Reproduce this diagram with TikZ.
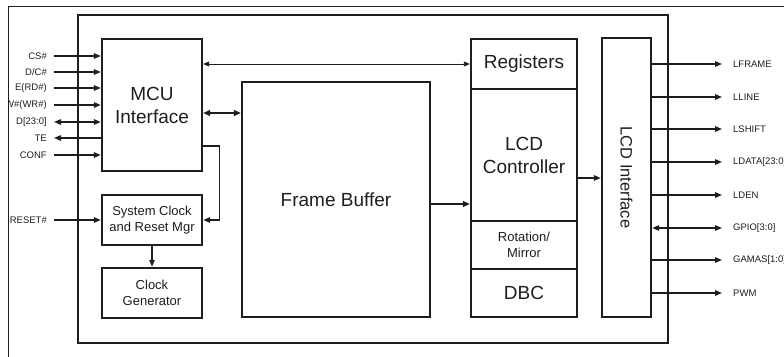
\documentclass[tikz,border=0pt]{standalone}
\usepackage{fontspec}
\setmainfont{Liberation Sans}
\usetikzlibrary{arrows.meta,calc}
\definecolor{ink}{HTML}{1E1E1E}
\tikzset{
  blk/.style={draw=ink,line width=2.4pt,inner sep=0pt,align=center,text=ink},
  bigtxt/.style={font=\fontsize{19}{23}\selectfont},
  smalltxt/.style={font=\fontsize{13}{16.5}\selectfont},
  sig/.style={font=\fontsize{9.5}{11}\selectfont,text=ink,inner sep=0pt},
  arr/.style={-{Triangle[length=7pt,width=5.5pt]},draw=ink,line width=1.4pt},
  arrboth/.style={{Triangle[length=7pt,width=5.5pt]}-{Triangle[length=7pt,width=5.5pt]},draw=ink,line width=1.4pt},
  arrthin/.style={{Triangle[length=6pt,width=5pt]}-{Triangle[length=6pt,width=5pt]},draw=ink,line width=0.9pt},
  arrthick/.style={-{Triangle[length=7pt,width=6pt]},draw=ink,line width=2.2pt},
  arrthickboth/.style={{Triangle[length=7pt,width=6pt]}-{Triangle[length=7pt,width=6pt]},draw=ink,line width=2.2pt}
}

\begin{document}
\begin{tikzpicture}[x=1pt,y=-1pt]
\useasboundingbox (0,0) rectangle (784,356);
\draw[ink,line width=1pt] (8,6) rectangle (800,370);
\clip (8.5,6.5) rectangle (800,370);
% chip outline
\draw[ink,line width=2.4pt] (78,15) rectangle (668,343);
% blocks
\node[blk,bigtxt,minimum width=100,minimum height=132] (mcu) at (152,105) {MCU\\Interface};
\node[blk,smalltxt,minimum width=100,minimum height=50] (sysclk) at (152,220) {System Clock\\and Reset Mgr};
\node[blk,smalltxt,minimum width=100,minimum height=50] (clkgen) at (152,293) {Clock\\Generator};
\node[blk,bigtxt,minimum width=188,minimum height=235] (fb) at (336,199.5) {Frame Buffer};
\node[blk,bigtxt,minimum width=106,minimum height=50] (regs) at (524,64) {Registers};
\node[blk,bigtxt,minimum width=106,minimum height=132] (lcdc) at (524,155) {LCD\\Controller};
\node[blk,smalltxt,minimum width=106,minimum height=48] (rotm) at (524,245) {Rotation/\\Mirror};
\node[blk,bigtxt,minimum width=106,minimum height=48] (dbc) at (524,293) {DBC};
\node[blk,minimum width=49,minimum height=279] (lcdif) at (626.5,177.5) {};
\node[text=ink,font=\fontsize{16.5}{19}\selectfont,rotate=-90] (lcdiflbl) at (lcdif) {LCD Interface};
% internal connections
\draw[arrthin] (regs.west) -- (mcu.east |- regs.west);
\draw[arrthickboth] ([yshift=-8]mcu.east) -- ([yshift=-8]mcu.east -| fb.west);
\draw[arr] ([yshift=-41]mcu.east) -- ++(16,0) |- (sysclk.east);
\draw[arr] (sysclk.south) -- (clkgen.north);
\draw[arrthick] ([yshift=-4.5]fb.east) -- ([yshift=-4.5]fb.east -| lcdc.west);
\draw[arr] ([yshift=-23]lcdc.east) -- ([yshift=-23]lcdc.east -| lcdif.west);
% MCU side signals
\node[sig,anchor=east] (cs) at (47,56) {CS\#};
\node[sig,anchor=east] (dc) at (47,72) {D/C\#};
\node[sig,anchor=east] (erd) at (47,88) {E(RD\#)};
\node[sig,anchor=east] (rw) at (47,105) {R/W\#(WR\#)};
\node[sig,anchor=east] (dbus) at (47,122) {D[23:0]};
\node[sig,anchor=east] (te) at (47,138) {TE};
\node[sig,anchor=east] (conf) at (47,155) {CONF};
\node[sig,anchor=east] (rst) at (47,220) {RESET\#};
\draw[arr] ([xshift=7]cs.east) -- (cs.east -| mcu.west);
\draw[arr] ([xshift=7]dc.east) -- (dc.east -| mcu.west);
\draw[arr] ([xshift=7]erd.east) -- (erd.east -| mcu.west);
\draw[arr] ([xshift=7]rw.east) -- (rw.east -| mcu.west);
\draw[arrboth] ([xshift=7]dbus.east) -- (dbus.east -| mcu.west);
\draw[arr] (te.east -| mcu.west) -- ([xshift=7]te.east);
\draw[arr] ([xshift=7]conf.east) -- (conf.east -| mcu.west);
\draw[arr] ([xshift=7]rst.east) -- (rst.east -| sysclk.west);
% panel side signals
\node[sig,anchor=west] (lframe) at (733,64) {LFRAME};
\node[sig,anchor=west] (lline) at (733,97) {LLINE};
\node[sig,anchor=west] (lshift) at (733,129) {LSHIFT};
\node[sig,anchor=west] (ldata) at (733,162) {LDATA[23:0]};
\node[sig,anchor=west] (lden) at (733,195) {LDEN};
\node[sig,anchor=west] (gpio) at (733,228) {GPIO[3:0]};
\node[sig,anchor=west] (gamas) at (733,260) {GAMAS[1:0]};
\node[sig,anchor=west] (pwm) at (733,293) {PWM};
\draw[arr] (lframe -| lcdif.east) -- ([xshift=-11]lframe.west);
\draw[arr] (lline -| lcdif.east) -- ([xshift=-11]lline.west);
\draw[arr] (lshift -| lcdif.east) -- ([xshift=-11]lshift.west);
\draw[arr] (ldata -| lcdif.east) -- ([xshift=-11]ldata.west);
\draw[arr] (lden -| lcdif.east) -- ([xshift=-11]lden.west);
\draw[arrboth] (gpio -| lcdif.east) -- ([xshift=-11]gpio.west);
\draw[arr] (gamas -| lcdif.east) -- ([xshift=-11]gamas.west);
\draw[arr] (pwm -| lcdif.east) -- ([xshift=-11]pwm.west);
\end{tikzpicture}
\end{document}
